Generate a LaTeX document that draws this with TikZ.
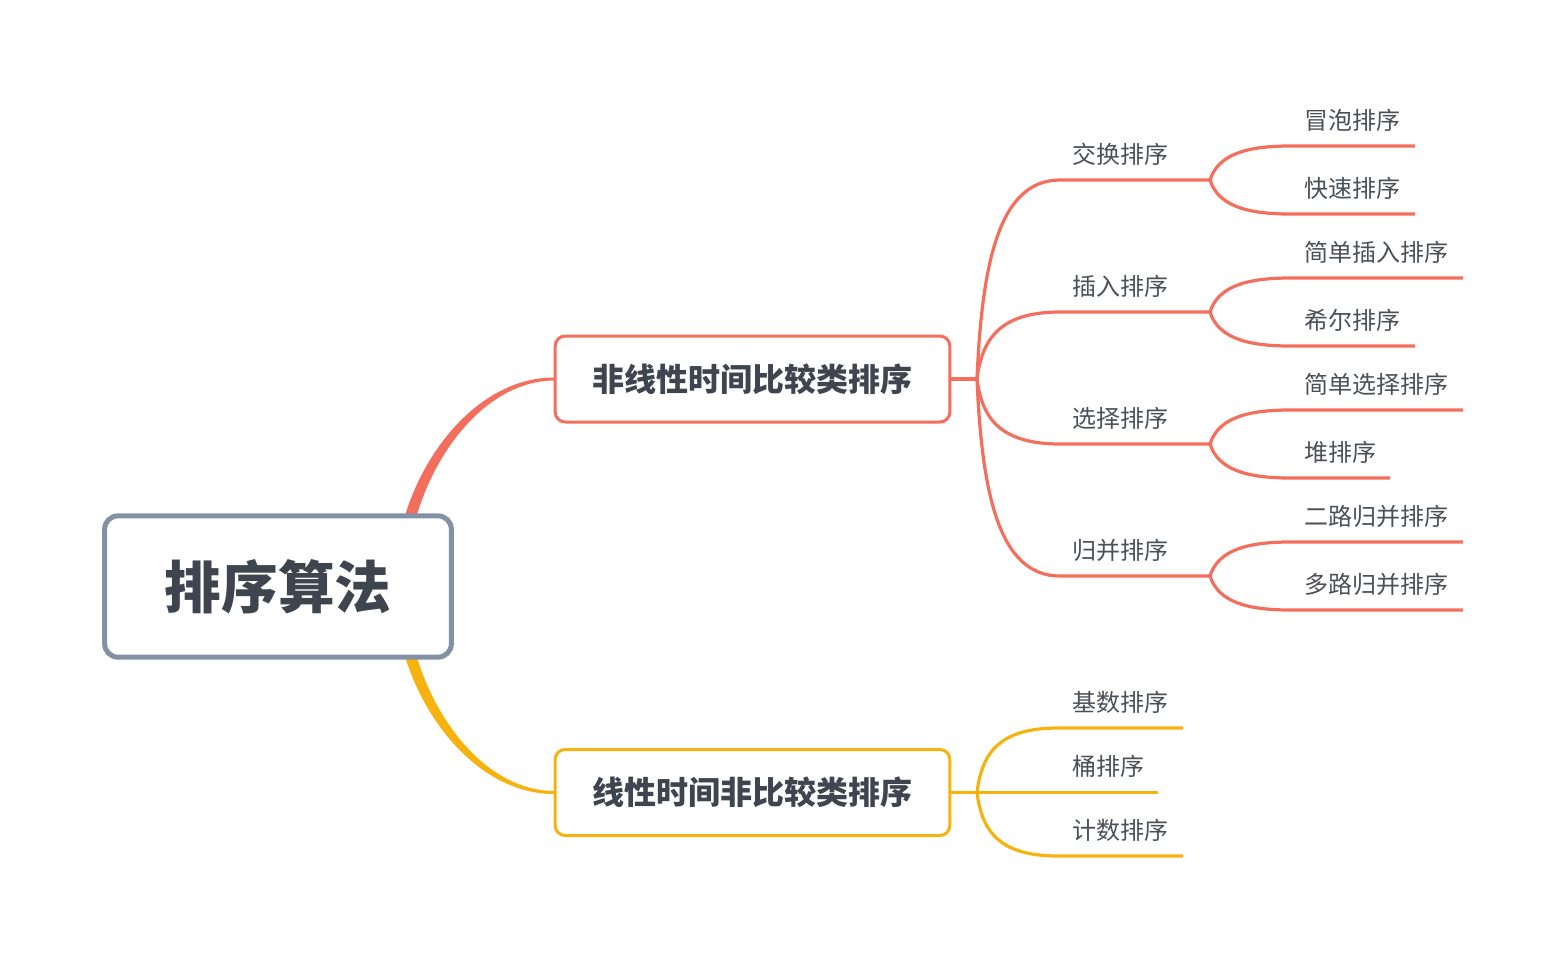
\documentclass[tikz,border=0pt]{standalone}
\usepackage{fontspec}
\setmainfont{Noto Sans CJK SC}
\definecolor{coral}{HTML}{F36E5C}
\definecolor{amber}{HTML}{F6B30F}
\definecolor{slate}{HTML}{8391A5}
\definecolor{ink}{HTML}{3E454F}
\definecolor{leafink}{HTML}{4A4F58}
\begin{document}
\begin{tikzpicture}[x=0.75pt,y=-0.75pt,
  leaf/.style={anchor=west,inner sep=0pt,font=\fontsize{18pt}{20pt}\selectfont,text=leafink},
  midbox/.style={draw,line width=2.25pt,rounded corners=7.5pt,fill=white,minimum width=296pt,minimum height=64.5pt,inner sep=0pt,font=\bfseries\fontsize{24pt}{28pt}\selectfont,text=ink},
  rootbox/.style={draw=slate,line width=3.75pt,rounded corners=10pt,fill=white,minimum width=260pt,minimum height=106pt,inner sep=0pt,font=\bfseries\fontsize{42.5pt}{46pt}\selectfont,text=ink},
  cl/.style={line width=2.4pt}]
\useasboundingbox (0,0) rectangle (1564,958);

% tapered main branches
\fill[coral] (394,586) .. controls (394,484) and (466,377.5) .. (554,377.5) -- (554,380.5) .. controls (472,381) and (406,488) .. (406,586) -- cycle;
\fill[amber] (394,586) .. controls (394,688) and (466,794) .. (554,794) -- (554,791) .. controls (472,790.5) and (406,684) .. (406,586) -- cycle;

\node[rootbox] (root) at (278,586.5) {排序算法};
\node[midbox,draw=coral] (b1) at (752.5,379) {非线性时间比较类排序};
\node[midbox,draw=amber] (b2) at (752.5,792.5) {线性时间非比较类排序};

% fork points
\coordinate (f1) at (977,379);
\coordinate (f2) at (977,792.5);
\coordinate (g1) at (1210,180);
\coordinate (g2) at (1210,312);
\coordinate (g3) at (1210,444);
\coordinate (g4) at (1210,576);

% branch 1 connectors
\draw[cl,coral] (b1.east) -- (f1);
\draw[cl,coral] (f1) .. controls (982,260) and (1000,180) .. (1060,180) -- (g1);
\draw[cl,coral] (f1) .. controls (982,339) and (1000,312) .. (1060,312) -- (g2);
\draw[cl,coral] (f1) .. controls (982,418) and (1000,444) .. (1060,444) -- (g3);
\draw[cl,coral] (f1) .. controls (982,497) and (1000,576) .. (1060,576) -- (g4);

\node[leaf] (c1) at (1072,154) {交换排序};
\node[leaf] (c2) at (1072,286) {插入排序};
\node[leaf] (c3) at (1072,418) {选择排序};
\node[leaf] (c4) at (1072,550) {归并排序};

% leaf end coordinates
\coordinate (e11) at (1415,146);
\coordinate (e12) at (1415,214);
\coordinate (e21) at (1463,278);
\coordinate (e22) at (1415,346);
\coordinate (e31) at (1463,410);
\coordinate (e32) at (1390,478);
\coordinate (e41) at (1463,542);
\coordinate (e42) at (1463,610);

\draw[cl,coral] (g1) .. controls (1218,155) and (1245,146) .. (1290,146) -- (e11);
\draw[cl,coral] (g1) .. controls (1218,205) and (1245,214) .. (1290,214) -- (e12);
\draw[cl,coral] (g2) .. controls (1218,287) and (1245,278) .. (1290,278) -- (e21);
\draw[cl,coral] (g2) .. controls (1218,337) and (1245,346) .. (1290,346) -- (e22);
\draw[cl,coral] (g3) .. controls (1218,419) and (1245,410) .. (1290,410) -- (e31);
\draw[cl,coral] (g3) .. controls (1218,469) and (1245,478) .. (1290,478) -- (e32);
\draw[cl,coral] (g4) .. controls (1218,551) and (1245,542) .. (1290,542) -- (e41);
\draw[cl,coral] (g4) .. controls (1218,601) and (1245,610) .. (1290,610) -- (e42);

\node[leaf] (l11) at (1304,120) {冒泡排序};
\node[leaf] (l12) at (1304,188) {快速排序};
\node[leaf] (l21) at (1304,252) {简单插入排序};
\node[leaf] (l22) at (1304,320) {希尔排序};
\node[leaf] (l31) at (1304,384) {简单选择排序};
\node[leaf] (l32) at (1304,452) {堆排序};
\node[leaf] (l41) at (1304,516) {二路归并排序};
\node[leaf] (l42) at (1304,584) {多路归并排序};

% branch 2 connectors
\coordinate (h1) at (1183,728);
\coordinate (h2) at (1158,792.5);
\coordinate (h3) at (1183,856);
\draw[cl,amber] (b2.east) -- (f2);
\draw[cl,amber] (f2) .. controls (982,752) and (1000,728) .. (1058,728) -- (h1);
\draw[cl,amber] (f2) -- (h2);
\draw[cl,amber] (f2) .. controls (982,832) and (1000,856) .. (1058,856) -- (h3);

\node[leaf] (k1) at (1072,702) {基数排序};
\node[leaf] (k2) at (1072,766) {桶排序};
\node[leaf] (k3) at (1072,830) {计数排序};
\end{tikzpicture}
\end{document}
